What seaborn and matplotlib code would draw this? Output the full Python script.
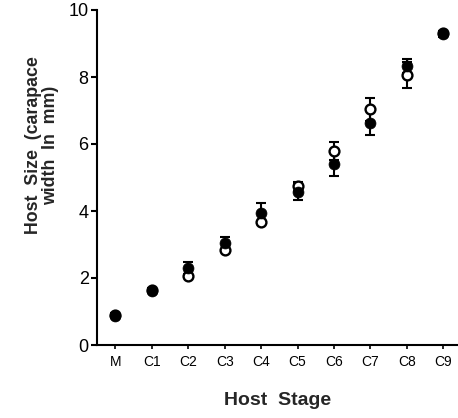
import matplotlib
matplotlib.use("Agg")
import matplotlib.pyplot as plt
import seaborn as sns
import pandas as pd

stages = ["M", "C1", "C2", "C3", "C4", "C5", "C6", "C7", "C8", "C9"]
filled_mean = [0.88, 1.62, 2.29, 3.04, 3.93, 4.58, 5.39, 6.62, 8.33, 9.28]
filled_err = [0.05, 0.05, 0.20, 0.19, 0.32, 0.25, 0.34, 0.36, 0.20, 0.08]
open_mean = [0.90, 1.64, 2.06, 2.83, 3.66, 4.74, 5.79, 7.03, 8.06, 9.30]
open_err = [0.05, 0.05, 0.05, 0.05, 0.05, 0.13, 0.28, 0.33, 0.40, 0.08]

sns.set_style("ticks")
plt.rcParams["font.family"] = ["Liberation Sans", "DejaVu Sans"]

fig = plt.figure(figsize=(4.58, 4.18), dpi=100)
ax = fig.add_axes([97 / 458, 1 - 345 / 418, 361 / 458, 335 / 418])

df_f = pd.DataFrame({"stage": stages, "size": filled_mean})
df_o = pd.DataFrame({"stage": stages, "size": open_mean})

ax.errorbar(stages, open_mean, yerr=open_err, fmt="none", ecolor="black",
            elinewidth=1.5, capsize=3.5, capthick=1.5, zorder=2)
ax.errorbar(stages, filled_mean, yerr=filled_err, fmt="none", ecolor="black",
            elinewidth=1.5, capsize=3.5, capthick=1.5, zorder=2)

sns.scatterplot(data=df_o, x="stage", y="size", ax=ax, s=50, marker="o",
                facecolor="white", edgecolor="black", linewidth=1.7, zorder=3)
sns.scatterplot(data=df_f, x="stage", y="size", ax=ax, s=62, marker="o",
                color="black", edgecolor="black", linewidth=0.5, zorder=4)

ax.set_xlim(-0.5, 9.4)
ax.set_ylim(0, 10)
ax.set_yticks([0, 2, 4, 6, 8, 10])
sns.despine(ax=ax)
for sp in ["left", "bottom"]:
    ax.spines[sp].set_linewidth(1.5)
    ax.spines[sp].set_color("black")

ax.tick_params(axis="y", direction="out", length=4, width=1.5, labelsize=13,
               pad=2, colors="black")
ax.tick_params(axis="x", direction="out", length=3, width=1.2, labelsize=10,
               pad=4, colors="black")

ax.set_xlabel("Host  Stage", fontsize=14, fontweight="bold")
ax.xaxis.set_label_coords(0.5, -0.14)
ax.set_ylabel("Host  Size  (carapace\nwidth  In  mm)", fontsize=12.8,
              fontweight="bold", linespacing=1.0, va="center")
ax.yaxis.set_label_coords(-0.152, 0.597)

fig.savefig("out.png", dpi=100)
